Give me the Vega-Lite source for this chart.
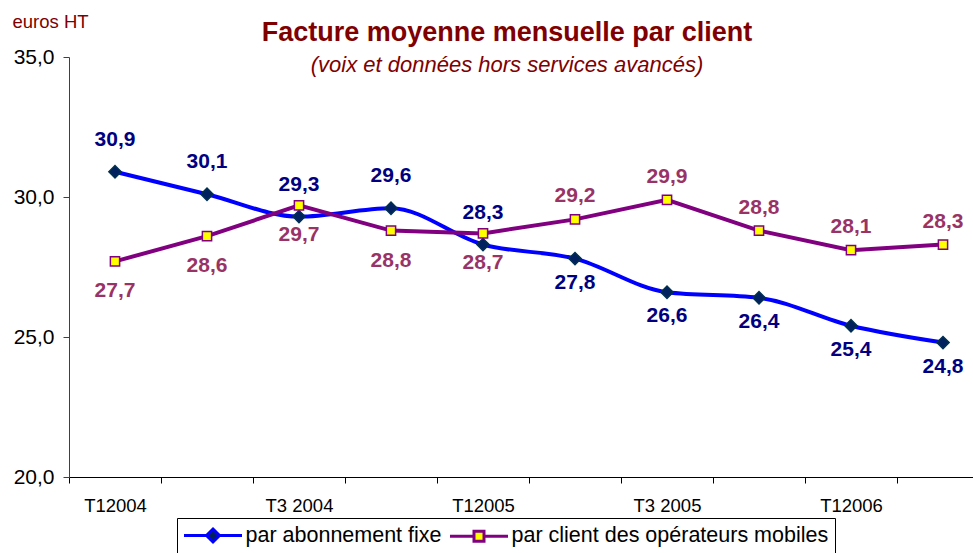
{
  "$schema": "https://vega.github.io/schema/vega-lite/v6.json",
  "width": 904,
  "height": 420,
  "autosize": {"type": "none"},
  "padding": {"left": 69, "top": 57, "right": 0, "bottom": 76},
  "background": "white",
  "config": {
    "view": {"stroke": null},
    "font": "Liberation Sans",
    "locale": {"number": {"decimal": ",", "thousands": " ", "grouping": [3], "currency": ["", " €"]}}
  },
  "title": {
    "text": "Facture moyenne mensuelle par client",
    "subtitle": "(voix et données hors services avancés)",
    "anchor": "middle",
    "frame": "group",
    "dx": -14,
    "offset": -65,
    "font": "Liberation Sans",
    "fontSize": 27,
    "fontWeight": "bold",
    "color": "#800000",
    "subtitleFont": "Liberation Sans",
    "subtitleFontSize": 22,
    "subtitleFontStyle": "italic",
    "subtitleColor": "#800000",
    "subtitlePadding": 8
  },
  "data": {
    "values": [
      {"q": "T12004", "s": "par abonnement fixe", "v": 30.9},
      {"q": "T2 2004", "s": "par abonnement fixe", "v": 30.1},
      {"q": "T3 2004", "s": "par abonnement fixe", "v": 29.3},
      {"q": "T4 2004", "s": "par abonnement fixe", "v": 29.6},
      {"q": "T12005", "s": "par abonnement fixe", "v": 28.3},
      {"q": "T2 2005", "s": "par abonnement fixe", "v": 27.8},
      {"q": "T3 2005", "s": "par abonnement fixe", "v": 26.6},
      {"q": "T4 2005", "s": "par abonnement fixe", "v": 26.4},
      {"q": "T12006", "s": "par abonnement fixe", "v": 25.4},
      {"q": "T2 2006", "s": "par abonnement fixe", "v": 24.8},
      {"q": "T12004", "s": "par client des opérateurs mobiles", "v": 27.7},
      {"q": "T2 2004", "s": "par client des opérateurs mobiles", "v": 28.6},
      {"q": "T3 2004", "s": "par client des opérateurs mobiles", "v": 29.7},
      {"q": "T4 2004", "s": "par client des opérateurs mobiles", "v": 28.8},
      {"q": "T12005", "s": "par client des opérateurs mobiles", "v": 28.7},
      {"q": "T2 2005", "s": "par client des opérateurs mobiles", "v": 29.2},
      {"q": "T3 2005", "s": "par client des opérateurs mobiles", "v": 29.9},
      {"q": "T4 2005", "s": "par client des opérateurs mobiles", "v": 28.8},
      {"q": "T12006", "s": "par client des opérateurs mobiles", "v": 28.1},
      {"q": "T2 2006", "s": "par client des opérateurs mobiles", "v": 28.3}
    ]
  },
  "encoding": {
    "x": {
      "field": "q",
      "type": "nominal",
      "sort": ["T12004", "T2 2004", "T3 2004", "T4 2004", "T12005", "T2 2005", "T3 2005", "T4 2005", "T12006", "T2 2006"],
      "scale": {"range": [0, 920], "paddingInner": 0, "paddingOuter": 0},
      "axis": {
        "title": null,
        "labelAngle": 0,
        "labelExpr": "test(/^T[24]/, datum.value) ? '' : datum.value",
        "tickBand": "extent",
        "tickSize": 6,
        "labelFont": "Liberation Sans",
        "labelFontSize": 18.5,
        "labelPadding": 13,
        "labelColor": "black",
        "domainColor": "black",
        "tickColor": "black",
        "labelLimit": 200
      }
    },
    "y": {
      "field": "v",
      "type": "quantitative",
      "scale": {"domain": [20, 35], "nice": false, "zero": false},
      "axis": {
        "values": [20, 25, 30, 35],
        "format": ".1f",
        "grid": false,
        "title": "euros HT",
        "titleAngle": 0,
        "titleAlign": "left",
        "titleBaseline": "alphabetic",
        "titleX": -57,
        "titleY": -30,
        "titleFont": "Liberation Sans",
        "titleFontSize": 18.5,
        "titleFontWeight": "normal",
        "titleColor": "#800000",
        "labelFont": "Liberation Sans",
        "labelFontSize": 21,
        "labelColor": "black",
        "labelPadding": 9,
        "tickSize": 6,
        "tickColor": "#404040",
        "domainColor": "#404040"
      }
    }
  },
  "layer": [
    {
      "transform": [{"filter": "datum.s == 'par abonnement fixe'"}],
      "mark": {"type": "line", "interpolate": "monotone", "strokeWidth": 4},
      "encoding": {
        "color": {
          "field": "s",
          "type": "nominal",
          "scale": {"domain": ["par abonnement fixe", "par client des opérateurs mobiles"], "range": ["#0000FF", "#800080"]},
          "legend": {
            "orient": "none",
            "legendX": 108,
            "legendY": 461,
            "direction": "horizontal",
            "title": null,
            "labelFont": "Liberation Sans",
            "labelFontSize": 21.5,
            "labelColor": "black",
            "labelLimit": 400,
            "symbolSize": 400,
            "symbolStrokeWidth": 3,
            "symbolOffset": 18.5,
            "labelOffset": 21,
            "columnPadding": 2,
            "strokeColor": "black",
            "fillColor": "white",
            "padding": 6,
            "encode": {
              "symbols": {
                "update": {
                  "shape": {"signal": "datum.value == 'par abonnement fixe' ? 'M-2.9,0L-0.65,0M0.65,0L2.9,0M0,-0.65L0.65,0L0,0.65L-0.65,0Z' : 'M-2.9,0L-0.5,0M0.5,0L2.9,0M-0.5,-0.5L0.5,-0.5L0.5,0.5L-0.5,0.5Z'"},
                  "fill": {"signal": "datum.value == 'par abonnement fixe' ? '#002060' : '#FFFF00'"},
                  "stroke": {"signal": "datum.value == 'par abonnement fixe' ? '#0000FF' : '#800080'"},
                  "strokeWidth": {"value": 3},
                  "opacity": {"value": 1}
                }
              }
            }
          }
        }
      }
    },
    {
      "transform": [{"filter": "datum.s != 'par abonnement fixe'"}],
      "mark": {"type": "line", "interpolate": "linear", "strokeWidth": 4},
      "encoding": {
        "color": {"field": "s", "type": "nominal"}
      }
    },
    {
      "mark": {"type": "point", "filled": true, "opacity": 1, "strokeWidth": 1.5},
      "encoding": {
        "shape": {"condition": {"test": "datum.s == 'par abonnement fixe'", "value": "diamond"}, "value": "square"},
        "size": {"condition": {"test": "datum.s == 'par abonnement fixe'", "value": 150}, "value": 85},
        "fill": {"condition": {"test": "datum.s == 'par abonnement fixe'", "value": "#002060"}, "value": "#FFFF00"},
        "stroke": {"condition": {"test": "datum.s == 'par abonnement fixe'", "value": "#003050"}, "value": "#800080"}
      }
    },
    {
      "transform": [{"filter": "datum.s == 'par abonnement fixe' && indexof(['T12004','T2 2004','T3 2004','T4 2004','T12005'], datum.q) >= 0"}],
      "mark": {"type": "text", "dy": -32, "fontSize": 21, "fontWeight": "bold", "font": "Liberation Sans", "color": "#000080"},
      "encoding": {"text": {"field": "v", "type": "quantitative", "format": ".1f"}}
    },
    {
      "transform": [{"filter": "datum.s == 'par abonnement fixe' && indexof(['T12004','T2 2004','T3 2004','T4 2004','T12005'], datum.q) < 0"}],
      "mark": {"type": "text", "dy": 24, "fontSize": 21, "fontWeight": "bold", "font": "Liberation Sans", "color": "#000080"},
      "encoding": {"text": {"field": "v", "type": "quantitative", "format": ".1f"}}
    },
    {
      "transform": [{"filter": "datum.s != 'par abonnement fixe' && indexof(['T12004','T2 2004','T3 2004','T4 2004','T12005'], datum.q) < 0"}],
      "mark": {"type": "text", "dy": -23, "fontSize": 21, "fontWeight": "bold", "font": "Liberation Sans", "color": "#993366"},
      "encoding": {"text": {"field": "v", "type": "quantitative", "format": ".1f"}}
    },
    {
      "transform": [{"filter": "datum.s != 'par abonnement fixe' && indexof(['T12004','T2 2004','T3 2004','T4 2004','T12005'], datum.q) >= 0"}],
      "mark": {"type": "text", "dy": 30, "fontSize": 21, "fontWeight": "bold", "font": "Liberation Sans", "color": "#993366"},
      "encoding": {"text": {"field": "v", "type": "quantitative", "format": ".1f"}}
    }
  ]
}
